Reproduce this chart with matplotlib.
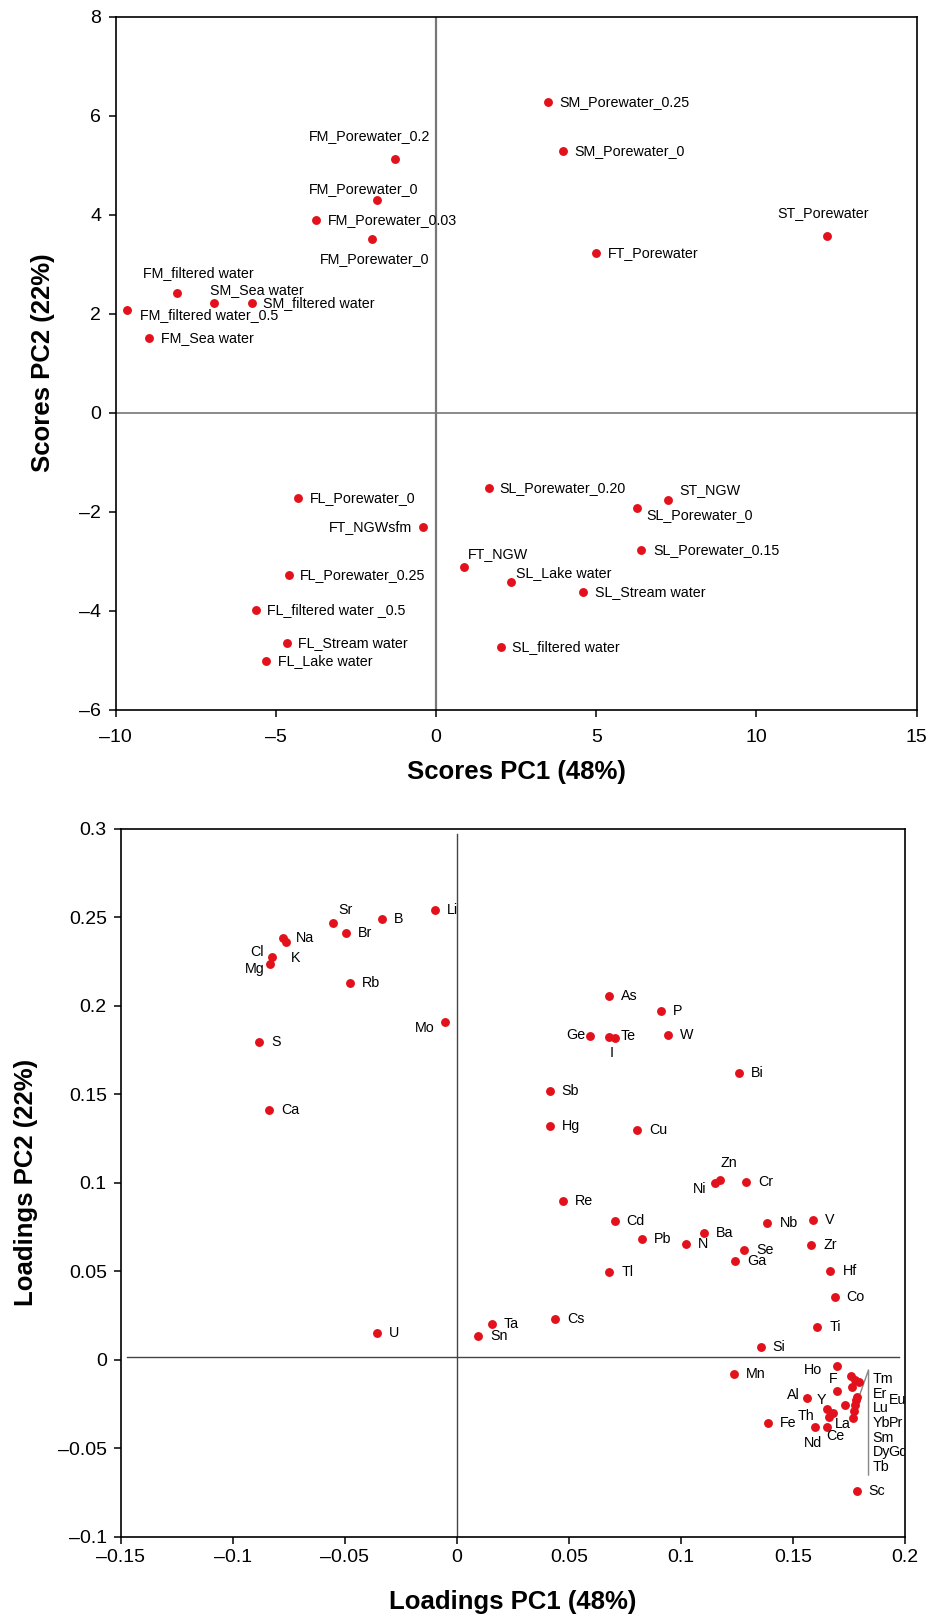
import matplotlib.pyplot as plt

plt.rcParams['font.family'] = ['Liberation Sans', 'DejaVu Sans']
RED = '#e3111b'

# ---------------- scores (top panel) ----------------
score_names = ["SM_Porewater_0.25", "SM_Porewater_0", "FM_Porewater_0.2", "FM_Porewater_0",
               "FM_Porewater_0.03", "FM_Porewater_0", "ST_Porewater", "FT_Porewater",
               "FM_filtered water", "SM_Sea water", "SM_filtered water", "FM_filtered water_0.5",
               "FM_Sea water", "FL_Porewater_0", "FT_NGWsfm", "FL_Porewater_0.25",
               "FL_filtered water _0.5", "FL_Stream water", "FL_Lake water", "FT_NGW",
               "SL_Porewater_0.20", "ST_NGW", "SL_Porewater_0", "SL_Porewater_0.15",
               "SL_Lake water", "SL_Stream water", "SL_filtered water"]
score_pc1 = [3.48, 3.96, -1.27, -1.84, -3.75, -2.00, 12.19, 4.98, -8.09, -6.94, -5.75, -9.64,
             -8.97, -4.30, -0.41, -4.59, -5.61, -4.64, -5.32, 0.86, 1.64, 7.23, 6.26, 6.40,
             2.33, 4.58, 2.04]
score_pc2 = [6.28, 5.29, 5.13, 4.30, 3.89, 3.50, 3.57, 3.23, 2.42, 2.22, 2.22, 2.07, 1.50,
             -1.73, -2.32, -3.28, -3.99, -4.65, -5.01, -3.11, -1.52, -1.76, -1.92, -2.78,
             -3.43, -3.63, -4.74]
# label placement: (dx px, dy px, ha)
score_offsets = [(12, 0, 'left'), (11, 0, 'left'), (-26, 23, 'center'), (-13, 11, 'center'),
                 (12, 0, 'left'), (3, -20, 'center'), (-3, 23, 'center'), (12, 0, 'left'),
                 (22, 20, 'center'), (-4, 13, 'left'), (11, 0, 'left'), (13, -5, 'left'),
                 (12, 0, 'left'), (12, 0, 'left'), (-11, 0, 'right'), (11, 0, 'left'),
                 (11, 0, 'left'), (11, 0, 'left'), (12, 0, 'left'), (4, 13, 'left'),
                 (11, 0, 'left'), (12, 10, 'left'), (10, -7, 'left'), (12, 0, 'left'),
                 (5, 9, 'left'), (12, 0, 'left'), (11, 0, 'left')]
score_xticks = [-10, -5, 0, 5, 10, 15]
score_yticks = [-6, -4, -2, 0, 2, 4, 6, 8]

# ---------------- loadings (bottom panel) ----------------
load_names = ["Li", "B", "Sr", "Br", "Na", "K", "Cl", "Mg", "Rb", "Mo", "S", "Ca",
              "As", "P", "Ge", "I", "Te", "W", "Bi", "Sb", "Hg", "Cu", "Zn", "Ni", "Cr",
              "Re", "Cd", "V", "Nb", "Ba", "Pb", "N", "Zr", "Se", "Ga", "Hf", "Tl", "Co",
              "Cs", "Ta", "Sn", "U", "Ti", "Si", "Mn", "Sc", "Fe", "Al", "Ho", "F", "Y",
              "La", "Th", "Nd", "Ce"]
load_pc1 = [-0.0097, -0.0336, -0.0552, -0.0496, -0.0774, -0.0762, -0.0825, -0.0832, -0.0477,
            -0.0051, -0.0883, -0.0839, 0.0680, 0.0910, 0.0595, 0.0680, 0.0706, 0.0943, 0.1258,
            0.0414, 0.0414, 0.0806, 0.1176, 0.1154, 0.1292, 0.0472, 0.0704, 0.1589, 0.1386,
            0.1103, 0.0827, 0.1021, 0.1582, 0.1283, 0.1243, 0.1667, 0.0680, 0.1686, 0.0440,
            0.0155, 0.0094, -0.0358, 0.1608, 0.1356, 0.1235, 0.1784, 0.1388, 0.1564, 0.1698,
            0.1695, 0.1653, 0.1678, 0.1662, 0.1597, 0.1652]
load_pc2 = [0.2540, 0.2490, 0.2470, 0.2410, 0.2384, 0.2360, 0.2274, 0.2236, 0.2128, 0.1906,
            0.1797, 0.1408, 0.2056, 0.1968, 0.1827, 0.1824, 0.1815, 0.1836, 0.1620, 0.1517,
            0.1320, 0.1296, 0.1016, 0.1001, 0.1004, 0.0898, 0.0783, 0.0789, 0.0772, 0.0716,
            0.0680, 0.0651, 0.0648, 0.0619, 0.0560, 0.0503, 0.0497, 0.0353, 0.0229, 0.0203,
            0.0132, 0.0153, 0.0186, 0.0073, -0.0080, -0.0741, -0.0358, -0.0215, -0.0034,
            -0.0176, -0.0281, -0.0300, -0.0326, -0.0379, -0.0383]
# labels not placed to the right of their point
load_offsets = {"Sr": (5, 13, 'left'), "Cl": (-8, 5, 'right'), "Mg": (-6, -5, 'right'),
                "K": (5, -16, 'left'), "Mo": (-11, -6, 'right'), "Ge": (-5, 1, 'right'),
                "I": (2, -16, 'center'), "Te": (6, 2, 'left'), "Zn": (8, 17, 'center'),
                "Ni": (-9, -6, 'right'), "Ho": (-15, -4, 'right'), "F": (-4, 12, 'center'),
                "Al": (-8, 3, 'right'), "Y": (-6, 9, 'center'), "Th": (-15, 1, 'right'),
                "La": (2, -11, 'left'), "Nd": (-2, -16, 'center'), "Ce": (8, -9, 'center')}

# rare earths, labelled in a bracketed list
ree_names = ["Tm", "Er", "Eu", "Lu", "Yb", "Pr", "Sm", "Dy", "Gd", "Tb"]
ree_pc1 = [0.1759, 0.1793, 0.1775, 0.1762, 0.1784, 0.1777, 0.1733, 0.1771, 0.1766, 0.1780]
ree_pc2 = [-0.0094, -0.0128, -0.0115, -0.0157, -0.0211, -0.0255, -0.0258, -0.0292, -0.0332, -0.0230]
ree_rows = [(0, 0), (1, 0), (1.45, 1), (2, 0), (3, 0), (3, 1), (4, 0), (5, 0), (5, 1), (6, 0)]

load_xticks = [-0.15, -0.1, -0.05, 0, 0.05, 0.1, 0.15, 0.2]
load_yticks = [-0.1, -0.05, 0, 0.05, 0.1, 0.15, 0.2, 0.25, 0.3]


def fmt(v):
    s = f"{v:g}"
    return s.replace('-', '\u2013')


def style_axes(ax, xticks, yticks, xpad, ypad):
    for sp in ax.spines.values():
        sp.set_linewidth(1.2)
    ax.set_xticks(xticks)
    ax.set_yticks(yticks)
    ax.set_xticklabels([fmt(v) for v in xticks])
    ax.set_yticklabels([fmt(v) for v in yticks])
    ax.tick_params(axis='x', direction='out', length=5, width=1.1, labelsize=14, pad=xpad)
    ax.tick_params(axis='y', direction='out', length=5, width=1.1, labelsize=14, pad=ypad)


fig = plt.figure(figsize=(9.32, 16.18), dpi=100)

# ---- top: scores ----
ax1 = fig.add_axes([0.1241, 0.5614, 0.8594, 0.4283])
ax1.set_xlim(-10, 15)
ax1.set_ylim(-6, 8)
ax1.axvline(0, color='#777777', lw=1.6, zorder=1)
ax1.axhline(0, color='#777777', lw=1.2, zorder=1)
ax1.plot(score_pc1, score_pc2, 'o', color=RED, ms=6.4, mec='none', zorder=3)
for name, x, y, (dx, dy, ha) in zip(score_names, score_pc1, score_pc2, score_offsets):
    ax1.annotate(name, (x, y), xytext=(dx, dy), textcoords='offset pixels',
                 ha=ha, va='center', fontsize=10.3)
style_axes(ax1, score_xticks, score_yticks, 9, 5.5)
ax1.set_xlabel('Scores PC1 (48%)', fontsize=18.5, fontweight='bold', va='center')
ax1.set_ylabel('Scores PC2 (22%)', fontsize=18.5, fontweight='bold', va='center')
ax1.xaxis.set_label_coords(0.5, -0.0899)
ax1.yaxis.set_label_coords(-0.0908, 0.5)

# ---- bottom: loadings ----
ax2 = fig.add_axes([0.1295, 0.0503, 0.8416, 0.4375])
ax2.set_xlim(-0.15, 0.2)
ax2.set_ylim(-0.1, 0.3)
ax2.axvline(0, ymin=0.0, ymax=0.992, color='#444444', lw=1.0, zorder=1)
ax2.axhline(0.0015, xmin=0.008, xmax=0.992, color='#444444', lw=1.0, zorder=1)
ax2.plot(load_pc1, load_pc2, 'o', color=RED, ms=6.4, mec='none', zorder=3)
ax2.plot(ree_pc1, ree_pc2, 'o', color=RED, ms=6.4, mec='none', zorder=3)
for name, x, y in zip(load_names, load_pc1, load_pc2):
    dx, dy, ha = load_offsets.get(name, (12, 0, 'left'))
    ax2.annotate(name, (x, y), xytext=(dx, dy), textcoords='offset pixels',
                 ha=ha, va='center', fontsize=10.3)

# bracket for the rare earth list
bx, btop, bbot = 0.1837, -0.0058, -0.0652
ax2.plot([0.1800, bx, bx], [-0.0190, btop, bbot], color='#888888', lw=1.0, zorder=2)
for name, (row, col) in zip(ree_names, ree_rows):
    dx = 4 if col == 0 else 20
    t = ax2.annotate(name, (bx, btop), xytext=(dx, -9 - 14.7 * row), textcoords='offset pixels',
                     ha='left', va='center', fontsize=10.3, annotation_clip=False)
    t.set_clip_on(True)
    t.set_clip_path(ax2.patch)

style_axes(ax2, load_xticks, load_yticks, 4, 5)
ax2.set_xlabel('Loadings PC1 (48%)', fontsize=18.5, fontweight='bold', va='center')
ax2.set_ylabel('Loadings PC2 (22%)', fontsize=18.5, fontweight='bold', va='center')
ax2.xaxis.set_label_coords(0.5, -0.0924)
ax2.yaxis.set_label_coords(-0.1207, 0.5)

fig.savefig('out.png', dpi=100)
